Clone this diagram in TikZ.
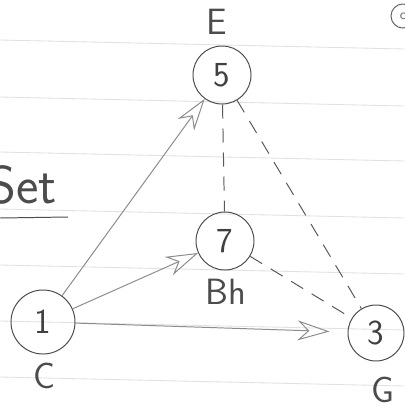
\documentclass[tikz,border=0pt]{standalone}
\usepackage{tikz}
\usetikzlibrary{arrows.meta}

\begin{document}
\begin{tikzpicture}[x=0.025cm,y=-0.025cm,
	font=\sffamily,
	vtx/.style={circle,draw=black!70,line width=0.7pt,inner sep=0pt,text=black!75,font=\sffamily\fontsize{25}{27}\selectfont},
	lbl/.style={text=black!70,font=\sffamily\fontsize{26}{28}\selectfont},
	arr/.style={draw=black!45,line width=0.7pt,-{Stealth[open,length=8mm,width=5mm]}},
	dsh/.style={draw=black!65,line width=0.7pt,dash pattern=on 0.35cm off 0.25cm}]
			\useasboundingbox (0,0) rectangle (404,410);
			\fill[white] (0,0) rectangle (404,410);
			\foreach \y in {40,97,152,209,265,321,377}
				\draw[blue!15!black!12,line width=0.6pt] (0,\y) -- (404,\y+9);
			\node[vtx,minimum size=1.45cm] (x5) at (222,75) {5};
			\node[vtx,minimum size=1.45cm] (x7) at (225,241) {7};
			\node[vtx,minimum size=1.6cm] (x1) at (43,322) {1};
			\node[vtx,minimum size=1.4cm] (x3) at (376,333) {3};
			\node[lbl] (tE) at (217,22) {E};
			\node[lbl] (tBh) at (226,292) {Bh};
			\node[lbl] (tC) at (44,376) {C};
			\node[lbl] (tG) at (383,390) {G};
			\node[lbl,anchor=base east,inner sep=0pt,font=\sffamily\fontsize{38}{40}\selectfont] (tSet) at (57,203) {Set};
			\draw[black!70,line width=0.7pt] (0,218) -- (68,217);
			\node[circle,draw=black!60,line width=0.7pt,minimum size=0.6cm,inner sep=0pt,text=black!60] (tc) at (403,16) {c};
			\draw[arr] (x1) -- (x5);
			\draw[arr] (x1) -- (x7);
			\draw[arr,shorten >=0.45cm] (x1) -- (x3);
			\draw[dsh] (x5) -- (x7);
			\draw[dsh] (x5) -- (x3);
			\draw[dsh] (x7) -- (x3);
			\end{tikzpicture}
\end{document}
